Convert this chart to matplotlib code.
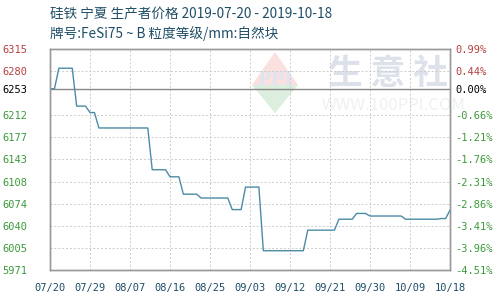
import matplotlib
matplotlib.use("Agg")
import matplotlib.pyplot as plt
from matplotlib.patches import Polygon
from datetime import datetime

plt.rcParams['font.family'] = ['Noto Sans CJK SC', 'DejaVu Sans']

title1 = "硅铁 宁夏 生产者价格 2019-07-20 - 2019-10-18"
title2 = "牌号:FeSi75 ~ B 粒度等级/mm:自然块"

# price at each change point
dates = ["07-20", "07-21", "07-22", "07-25", "07-26", "07-28", "07-29", "07-30",
         "07-31", "08-11", "08-12", "08-15", "08-16", "08-18", "08-19", "08-22",
         "08-23", "08-29", "08-30", "09-01", "09-02", "09-05", "09-06", "09-15",
         "09-16", "09-22", "09-23", "09-26", "09-27", "09-29", "09-30", "10-07",
         "10-08", "10-15", "10-16", "10-17", "10-18"]
prices = [6253, 6253, 6285, 6285, 6226, 6226, 6216, 6216,
          6192, 6192, 6127, 6127, 6116, 6116, 6089, 6089,
          6083, 6083, 6065, 6065, 6100, 6100, 6001, 6001,
          6033, 6033, 6050, 6050, 6059, 6059, 6055, 6055,
          6050, 6050, 6051, 6051, 6064]

base = 6253
pct_ticks = [0.99, 0.44, 0.00, -0.66, -1.21, -1.76, -2.31, -2.86, -3.41, -3.96, -4.51]
left_labels = ["6315", "6280", "6253", "6212", "6177", "6143", "6108", "6074",
               "6040", "6005", "5971"]
x_labels = ["07/20", "07/29", "08/07", "08/16", "08/25", "09/03", "09/12",
            "09/21", "09/30", "10/09", "10/18"]

x = [datetime.strptime("2019-" + d, "%Y-%m-%d") for d in dates]
tick_vals = [base * (1 + p / 100) for p in pct_ticks]
x_ticks = [datetime.strptime("2019/" + d, "%Y/%m/%d") for d in x_labels]

fig = plt.figure(figsize=(5, 3), dpi=100)
ax = fig.add_axes([0.1, 0.1, 0.8, 0.7367])

# watermark (logo + site name)
ax.add_patch(Polygon([[0.505, 0.837], [0.5625, 0.986], [0.62, 0.837]],
                     closed=True, transform=ax.transAxes, color="#fbe0e0", lw=0, zorder=0))
ax.add_patch(Polygon([[0.505, 0.837], [0.5625, 0.71], [0.62, 0.837]],
                     closed=True, transform=ax.transAxes, color="#dcefdf", lw=0, zorder=0))
ax.text(0.5625, 0.86, "PPI", transform=ax.transAxes, fontsize=13, color="#dfe4ee",
        ha="center", va="center", fontweight="bold", family="DejaVu Serif", zorder=0)
ax.text(0.695, 0.89, "生 意 社", transform=ax.transAxes, fontsize=25,
        color="#dde2ea", ha="left", va="center", fontweight="bold", zorder=0)
ax.text(0.68, 0.745, "WWW.100PPI.COM", transform=ax.transAxes, fontsize=12,
        color="#eef0f3", ha="left", va="center", zorder=0)

ax.plot(x, prices, color="#4a8ca6", lw=1.0, zorder=3)
ax.axhline(base, color="#888888", lw=1.0, zorder=2)

ax.set_xlim(x_ticks[0], x_ticks[-1])
ax.set_ylim(tick_vals[-1], tick_vals[0])

ax.set_yticks(tick_vals)
ax.set_yticklabels(left_labels)
ax.set_xticks(x_ticks)
ax.set_xticklabels(x_labels)

for v, p in zip(tick_vals, pct_ticks):
    if p != 0:
        ax.axhline(v, color="#cccccc", lw=0.7, ls=(0, (2, 2)), zorder=1)
for t in x_ticks[1:-1]:
    ax.axvline(t, color="#cccccc", lw=0.7, ls=(0, (2, 2)), zorder=1)


def tick_color(p):
    if p > 0:
        return "#b54040"
    if p < 0:
        return "#3c9a3c"
    return "#000000"


ax.tick_params(axis="y", length=0, pad=16)
ax.tick_params(axis="x", length=0, pad=9)
for lab, p in zip(ax.get_yticklabels(), pct_ticks):
    lab.set_color(tick_color(p))
    lab.set_fontfamily("DejaVu Sans Mono")
    lab.set_fontsize(7.5)
for lab in ax.get_xticklabels():
    lab.set_color("#1f4e66")
    lab.set_fontfamily("DejaVu Sans Mono")
    lab.set_fontsize(7.5)

ax2 = ax.twinx()
ax2.set_ylim(ax.get_ylim())
ax2.set_yticks(tick_vals)
ax2.set_yticklabels(["%.2f%%" % p for p in pct_ticks])
ax2.tick_params(length=0, pad=4)
for lab, p in zip(ax2.get_yticklabels(), pct_ticks):
    lab.set_color(tick_color(p))
    lab.set_fontfamily("DejaVu Sans Mono")
    lab.set_fontsize(7.5)

for a in (ax, ax2):
    for s in a.spines.values():
        s.set_color("#999999")
        s.set_linewidth(1.0)

fig.text(0.1, 0.95, title1, fontsize=9.8, color="#1f4e66", va="center")
fig.text(0.1, 0.887, title2, fontsize=9.8, color="#1f4e66", va="center")

fig.savefig("out.png", dpi=100)
